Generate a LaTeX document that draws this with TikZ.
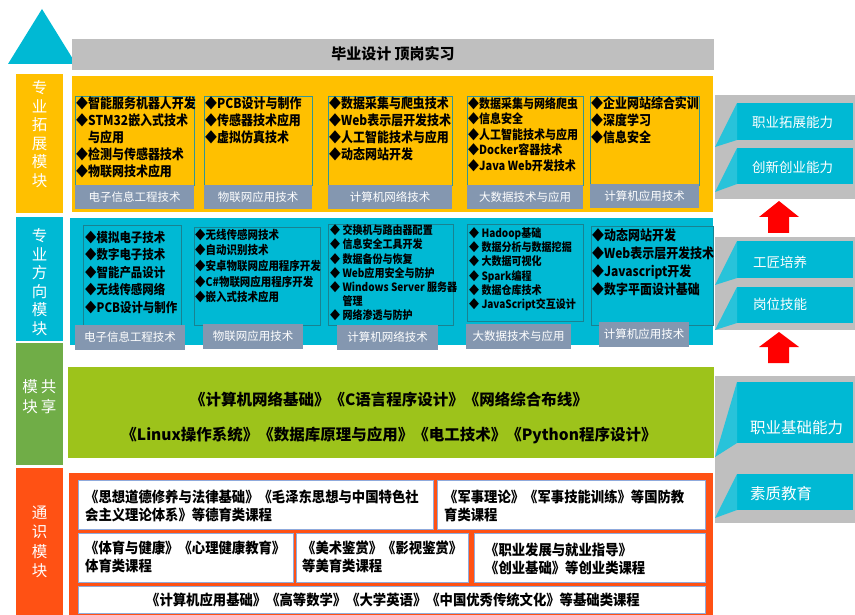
\documentclass[tikz,border=0pt]{standalone}
\usepackage{fontspec}
\setmainfont{Noto Sans CJK SC}
\newfontfamily\cnarrow[FakeStretch=0.88]{Noto Sans CJK SC}
\newfontfamily\cslim[FakeStretch=0.92]{Noto Sans CJK SC}
\usetikzlibrary{positioning}
\definecolor{gold}{RGB}{255,192,0}
\definecolor{cyanm}{RGB}{0,185,212}
\definecolor{flapc}{RGB}{40,195,218}
\definecolor{leafg}{RGB}{112,173,71}
\definecolor{limeg}{RGB}{157,195,27}
\definecolor{redo}{RGB}{255,81,20}
\definecolor{greyb}{RGB}{191,191,191}
\definecolor{tagc}{RGB}{132,151,176}
\definecolor{boxo}{RGB}{50,150,150}
\definecolor{boxc}{RGB}{25,130,145}
\definecolor{boxr}{RGB}{143,170,220}
\newcommand{\setfs}[2]{\fontsize{#1}{#2}\selectfont}

\begin{document}
\begin{tikzpicture}[x=1pt, y=-1pt,
        side/.style = {text=white, align=center, inner sep=0pt,
            font=\setfs{15.5}{18.5}},
        items/.style = {inner sep=0pt, anchor=north west, align=left},
        tag/.style = {fill=tagc, text=white, inner sep=0pt,
            font=\setfs{11.5}{14}},
        course/.style = {draw=boxr, fill=white, line width=0.8pt},
        ctext/.style = {inner sep=0pt, anchor=north west, align=left,
            font=\cslim\setfs{14.5}{18.5}\bfseries},
        btext/.style = {text=white, anchor=west, inner sep=0pt},
        uparrow/.style = {fill=red}
    ]
    \useasboundingbox (0,0) rectangle (855,615);

    % Top triangle and bar
    \fill[cyanm] (42,9) -- (76,64) -- (8,64) -- cycle;
    \fill[greyb] (72,39) rectangle (714,70);
    \node[font=\setfs{15}{18}\bfseries] (top) at (393,54) {毕业设计 顶岗实习};

    % Left module labels
    \fill[gold] (16,74) rectangle (63,213);
    \node[side] (labA) at (39.5,134) {专\\业\\拓\\展\\模\\块};
    \fill[cyanm] (16,217) rectangle (63,341);
    \node[side] (labB) at (39.5,282) {专\\业\\方\\向\\模\\块};
    \fill[leafg] (16,343) rectangle (63,465);
    \node[side, font=\setfs{15.5}{20}] (labC) at (39.5,397) {模\hspace{3pt}共\\块\hspace{3pt}享};
    \fill[redo] (16,468) rectangle (63,615);
    \node[side, font=\setfs{15.5}{19.5}] (labD) at (39.5,542) {通\\识\\模\\块};

    % Extension module
    \fill[gold] (72,76) rectangle (713,212);
    \draw[boxo, line width=0.8pt] (75,96) rectangle (194,185);
    \draw[boxo, line width=0.8pt] (204,96) rectangle (312,185);
    \draw[boxo, line width=0.8pt] (328,96) rectangle (452,185);
    \draw[boxo, line width=0.8pt] (467,96) rectangle (583,185);
    \draw[boxo, line width=0.8pt] (590,96) rectangle (699,185);
    \node[items, font=\cnarrow\setfs{13.6}{17}\bfseries] (ext1) at (76,96.5)
        {◆智能服务机器人开发\\◆STM32嵌入式技术\\\hphantom{◆}与应用\\◆检测与传感器技术\\◆物联网技术应用};
    \node[items, font=\cnarrow\setfs{13.6}{17}\bfseries] (ext2) at (205,96.5)
        {◆PCB设计与制作\\◆传感器技术应用\\◆虚拟仿真技术};
    \node[items, font=\cnarrow\setfs{13.6}{17}\bfseries] (ext3) at (329,96.5)
        {◆数据采集与爬虫技术\\◆Web表示层开发技术\\◆人工智能技术与应用\\◆动态网站开发};
    \node[items, font=\cnarrow\setfs{12.5}{15.5}\bfseries] (ext4) at (468,97)
        {◆数据采集与网络爬虫\\◆信息安全\\◆人工智能技术与应用\\◆Docker容器技术\\◆Java Web开发技术};
    \node[items, font=\cnarrow\setfs{13.6}{17}\bfseries] (ext5) at (591,96.5)
        {◆企业网站综合实训\\◆深度学习\\◆信息安全};
    \node[tag, minimum width=119, minimum height=24] (tA1) at (134.5,197) {电子信息工程技术};
    \node[tag, minimum width=108, minimum height=24] (tA2) at (258,197) {物联网应用技术};
    \node[tag, minimum width=124, minimum height=24] (tA3) at (390,197) {计算机网络技术};
    \node[tag, minimum width=116, minimum height=24] (tA4) at (525,197) {大数据技术与应用};
    \node[tag, minimum width=109, minimum height=24] (tA5) at (644.5,196) {计算机应用技术};

    % Direction module
    \fill[cyanm] (70,218) rectangle (713,345);
    \draw[boxc, line width=0.8pt] (83,225) rectangle (181,325);
    \draw[boxc, line width=0.8pt] (194,227) rectangle (320,325);
    \draw[boxc, line width=0.8pt] (328,224) rectangle (453,325);
    \draw[boxc, line width=0.8pt] (467,224) rectangle (583,321);
    \draw[boxc, line width=0.8pt] (591,226) rectangle (713,325);
    \node[items, font=\cnarrow\setfs{13}{17.5}\bfseries] (dir1) at (85,231)
        {◆模拟电子技术\\◆数字电子技术\\◆智能产品设计\\◆无线传感网络\\◆PCB设计与制作};
    \node[items, font=\cnarrow\setfs{11.9}{15.7}\bfseries] (dir2) at (195,228.5)
        {◆无线传感网技术\\◆自动识别技术\\◆安卓物联网应用程序开发\\◆C\#物联网应用程序开发\\◆嵌入式技术应用};
    \node[items, font=\cnarrow\setfs{11.4}{14.2}\bfseries] (dir3) at (330,224.5)
        {◆ 交换机与路由器配置\\◆ 信息安全工具开发\\◆ 数据备份与恢复\\◆ Web应用安全与防护\\◆ Windows Server 服务器\\\hphantom{◆ }管理\\◆ 网络渗透与防护};
    \node[items, font=\cnarrow\setfs{11.4}{14.2}\bfseries] (dir4) at (469,227.5)
        {◆ Hadoop基础\\◆ 数据分析与数据挖掘\\◆ 大数据可视化\\◆ Spark编程\\◆ 数据仓库技术\\◆ JavaScript交互设计};
    \node[items, font=\cnarrow\setfs{13.6}{18}\bfseries] (dir5) at (592,228.5)
        {◆动态网站开发\\◆Web表示层开发技术\\◆Javascript开发\\◆数字平面设计基础};
    \node[tag, minimum width=110, minimum height=25] (tB1) at (130,337.5) {电子信息工程技术};
    \node[tag, minimum width=100, minimum height=25] (tB2) at (253,336.5) {物联网应用技术};
    \node[tag, minimum width=101, minimum height=25] (tB3) at (387.5,337.5) {计算机网络技术};
    \node[tag, minimum width=105, minimum height=25] (tB4) at (518.5,336.5) {大数据技术与应用};
    \node[tag, minimum width=90, minimum height=25] (tB5) at (644,334) {计算机应用技术};

    % Shared module
    \fill[limeg] (68,367) rectangle (714,458);
    \node[font=\setfs{15.5}{18}\bfseries] (sh1) at (389,400)
        {《计算机网络基础》《C语言程序设计》《网络综合布线》};
    \node[font=\setfs{15.5}{18}\bfseries] (sh2) at (389,435)
        {《Linux操作系统》《数据库原理与应用》《电工技术》《Python程序设计》};

    % General module
    \fill[redo] (69,473) rectangle (713,615);
    \draw[course] (78,480) rectangle (433,529);
    \draw[course] (437,480) rectangle (705,529);
    \draw[course] (78,533) rectangle (293,582);
    \draw[course] (296,533) rectangle (468,582);
    \draw[course] (474,533) rectangle (705,582);
    \draw[course] (78,586) rectangle (705,613);
    \node[ctext] (gen1) at (85,489.5)
        {《思想道德修养与法律基础》《毛泽东思想与中国特色社\\会主义理论体系》等德育类课程};
    \node[ctext] (gen2) at (444,489.5)
        {《军事理论》《军事技能训练》等国防教\\育类课程};
    \node[ctext] (gen3) at (85,540.5)
        {《体育与健康》《心理健康教育》\\体育类课程};
    \node[ctext] (gen4) at (302,540.5)
        {《美术鉴赏》《影视鉴赏》\\等美育类课程};
    \node[ctext] (gen5) at (485,542.5)
        {《职业发展与就业指导》\\《创业基础》等创业类课程};
    \node[font=\cslim\setfs{14.5}{18}\bfseries, inner sep=0pt] (gen6) at (393,600)
        {《计算机应用基础》《高等数学》《大学英语》《中国优秀传统文化》等基础类课程};

    % Ability panels
    \fill[greyb] (715,95) rectangle (855,199);
    \fill[greyb] (715,237) rectangle (855,330);
    \fill[greyb] (715,376) rectangle (855,523);
    \fill[cyanm] (737,103) rectangle (853,140);
    \fill[flapc] (737,103) -- (737,140) -- (715,147) -- cycle;
    \fill[cyanm] (737,148) rectangle (853,184);
    \fill[flapc] (737,148) -- (737,184) -- (715,192) -- cycle;
    \fill[cyanm] (737,241) rectangle (853,278);
    \fill[flapc] (737,241) -- (737,278) -- (715,285) -- cycle;
    \fill[cyanm] (737,287) rectangle (853,323);
    \fill[flapc] (737,287) -- (737,323) -- (715,330) -- cycle;
    \fill[cyanm] (737,382) rectangle (853,443);
    \fill[flapc] (737,382) -- (737,443) -- (715,457) -- cycle;
    \fill[cyanm] (737,474) rectangle (853,510);
    \fill[flapc] (737,474) -- (737,510) -- (715,518) -- cycle;
    \node[btext, font=\setfs{13.5}{16}] (ab1) at (752,122) {职业拓展能力};
    \node[btext, font=\setfs{13.5}{16}] (ab2) at (752,167) {创新创业能力};
    \node[btext, font=\setfs{13.5}{16}] (ab3) at (753,262) {工匠培养};
    \node[btext, font=\setfs{13.5}{16}] (ab4) at (753,304) {岗位技能};
    \node[btext, font=\setfs{15.5}{18}] (ab5) at (750,428) {职业基础能力};
    \node[btext, font=\setfs{15.5}{18}] (ab6) at (750,494) {素质教育};

    % Red arrows
    \fill[uparrow] (779,201) -- (799,217) -- (789,217) -- (789,233)
        -- (768,233) -- (768,217) -- (759,217) -- cycle;
    \fill[uparrow] (779,332) -- (799,347) -- (789,347) -- (789,363)
        -- (768,363) -- (768,347) -- (759,347) -- cycle;

\end{tikzpicture}
\end{document}
